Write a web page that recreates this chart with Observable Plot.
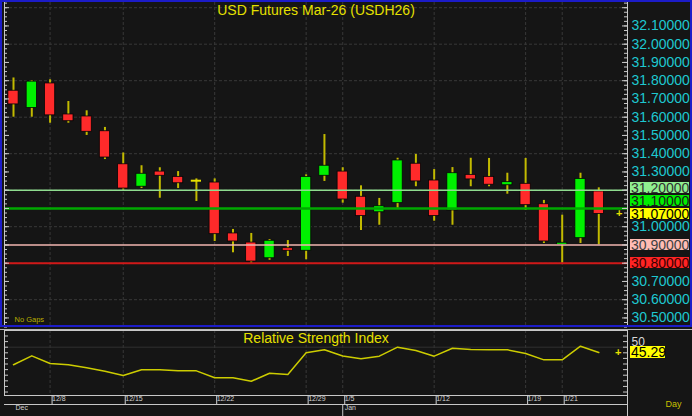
<!DOCTYPE html>
<html>
<head>
<meta charset="utf-8">
<script src="https://cdn.jsdelivr.net/npm/d3@7"></script>
<script src="https://cdn.jsdelivr.net/npm/@observablehq/plot@0.6"></script>
<style>
  html, body { margin: 0; padding: 0; background: #151515; }
  #chart { position: relative; width: 692px; height: 416px; background: #151515; overflow: hidden;
           font-family: "Liberation Sans", Arial, sans-serif; }
  #chart svg { position: absolute; left: 0; overflow: visible; }
  .lbl { position: absolute; font-size: 14px; line-height: 12px; height: 11.5px; padding-left: 1px;
         box-sizing: border-box; white-space: nowrap; overflow: visible; }
  .deco { position: absolute; pointer-events: none; }
</style>
</head>
<body>
<div id="chart"></div>
<script>
// ---------------- data ----------------
const dates = ["12/4","12/5","12/8","12/9","12/10","12/11","12/15","12/16","12/17","12/18","12/19",
  "12/22","12/23","12/24","12/25","12/26","12/29","12/30","1/5","1/6","1/7","1/8","1/9",
  "1/12","1/13","1/14","1/15","1/16","1/19","1/20","1/21","1/22","1/23"];
const open  = [31.745,31.650,31.785,31.615,31.604,31.523,31.342,31.219,31.302,31.273,31.252,
  31.242,30.963,30.913,30.827,30.882,30.868,31.279,31.302,31.164,31.079,31.129,31.345,
  31.253,31.089,31.284,31.273,31.227,31.235,31.123,30.901,30.937,31.193];
const high  = [31.815,31.800,31.805,31.686,31.635,31.544,31.404,31.334,31.323,31.302,31.262,
  31.262,30.985,30.963,30.930,30.924,31.284,31.505,31.323,31.224,31.155,31.375,31.396,
  31.313,31.324,31.375,31.374,31.293,31.374,31.144,31.063,31.293,31.213];
const low   = [31.600,31.600,31.567,31.567,31.500,31.368,31.200,31.209,31.156,31.209,31.138,
  30.919,30.857,30.800,30.816,30.837,30.819,31.248,31.129,30.979,31.008,31.101,31.219,
  31.030,31.008,31.219,31.219,31.178,31.089,30.908,30.800,30.908,30.901];
const close = [31.670,31.795,31.610,31.578,31.520,31.379,31.209,31.290,31.279,31.238,31.252,
  30.959,30.919,30.809,30.923,30.868,31.273,31.334,31.149,31.058,31.112,31.363,31.248,
  31.058,31.293,31.259,31.230,31.244,31.118,30.919,30.912,31.262,31.070];
const rsi   = [34.3,42.3,35.4,34.3,31.6,28.6,24.7,29.8,29.8,28.9,28.9,
  22.7,22.7,19.6,26.8,25.6,45.0,47.7,42.2,39.6,42.0,50.0,47.1,
  42.0,49.1,48.0,47.7,47.7,44.4,38.7,38.7,50.9,45.29];
const tickDates   = ["12/8","12/15","12/22","12/29","1/5","1/12","1/19","1/21"];
const monthLabels = ["Dec","Jan"];
const monthStarts = ["12/4","1/5"];
const levels      = [31.20, 31.10, 30.90, 30.80];
const priceTicks  = d3.range(305, 322).map(v => v / 10);   // 30.5 .. 32.1
const gridPrices  = d3.range(153, 162).map(v => v / 5);    // 30.6 .. 32.2 step 0.2
const rsiTicks    = d3.range(10, 61, 5);
const titleText   = "USD Futures Mar-26 (USDH26)";
const rsiTitle    = "Relative Strength Index";

// ---------------- styles ----------------
const BG = "#151515", GRID = "#383838", AXIS = "#c8c8c8";
const UP = "#00f000", DOWN = "#ff2a2a", WICK = "#c2ba00", YEL = "#e6e000", CYAN = "#1ec8d0";
const levelStyle = [
  {line: "#8fdc8f", width: 1.5, bg: "#90ee90", fg: "#303030"},
  {line: "#00a800", width: 2.5, bg: "#00ee00", fg: "#1a1a1a"},
  {line: "#f2b6b0", width: 1.5, bg: "#ffbcb4", fg: "#404040"},
  {line: "#d01818", width: 2,   bg: "#ff2424", fg: "#3a0000"}
];

const n = dates.length;
const idx = d3.range(n);
const candles = idx.map(i => ({i, date: dates[i], open: open[i], high: high[i], low: low[i], close: close[i]}));
const ups = candles.filter(d => d.close > d.open);
const downs = candles.filter(d => d.close < d.open);
const dojis = candles.filter(d => d.close === d.open);
const tickIdx = tickDates.map(d => dates.indexOf(d));
const monthIdx = monthStarts.map(d => dates.indexOf(d));
const xDomain = [-0.492, n - 1 + 1.57];
const ML = 4, MR = 65, W = 692;
const frameW = W - ML - MR;
const hw = 0.28;
const last = n - 1;

const chart = document.getElementById("chart");
const font = '"Liberation Sans", Arial, sans-serif';

// ---------------- price panel ----------------
const priceDomain = [30.4586, 32.2285];
const minorP = d3.range(0, 72).map(k => 30.45 + k * 0.025).filter(v => v <= priceDomain[1]);
const majorP = minorP.filter((v, k) => k % 4 === 2);

const pricePlot = Plot.plot({
  width: W, height: 327,
  marginLeft: ML, marginRight: MR, marginTop: 2, marginBottom: 2,
  style: {background: "none", color: AXIS, fontFamily: font, fontSize: "14px", overflow: "visible"},
  x: {type: "linear", domain: xDomain, axis: null},
  y: {domain: priceDomain, axis: null},
  marks: [
    Plot.ruleX(tickIdx, {x: d => d, stroke: GRID, strokeDasharray: "3,2"}),
    Plot.ruleY(gridPrices, {y: d => d, stroke: GRID, strokeDasharray: "3,2"}),
    Plot.ruleX(candles, {x: "i", y1: "low", y2: "high", stroke: WICK, strokeWidth: 2}),
    Plot.rect(ups, {x1: d => d.i - hw, x2: d => d.i + hw, y1: "open", y2: "close", fill: UP, stroke: "#050505", strokeWidth: 0.8}),
    Plot.rect(downs, {x1: d => d.i - hw, x2: d => d.i + hw, y1: "open", y2: "close", fill: DOWN, stroke: "#050505", strokeWidth: 0.8}),
    Plot.ruleY(dojis, {y: "close", x1: d => d.i - hw, x2: d => d.i + hw, stroke: YEL, strokeWidth: 2}),
    ...levels.map((v, k) => Plot.ruleY([v], {y: d => d, stroke: levelStyle[k].line, strokeWidth: levelStyle[k].width})),
    Plot.ruleY(minorP, {y: d => d, insetRight: frameW - 3, stroke: AXIS}),
    Plot.ruleY(majorP, {y: d => d, insetRight: frameW - 5, stroke: AXIS}),
    Plot.ruleY(minorP, {y: d => d, insetLeft: frameW - 3, stroke: AXIS}),
    Plot.ruleY(majorP, {y: d => d, insetLeft: frameW - 5, stroke: AXIS}),
    Plot.ruleX([xDomain[0], xDomain[1]], {x: d => d, stroke: AXIS}),
    Plot.axisY({
      anchor: "right", label: null, tickSize: 0, tickPadding: 4, fontSize: 14, color: CYAN,
      ticks: priceTicks.filter(v => !levels.some(l => Math.abs(l - v) < 1e-6)),
      tickFormat: d => d.toFixed(5)
    }),
    Plot.text([titleText], {frameAnchor: "top", dy: 3, fill: YEL, fontSize: 14}),
    Plot.text(["No Gaps"], {frameAnchor: "bottom-left", dx: 10, dy: -4, fill: "#b8b000", fontSize: 7.5, textAnchor: "start"}),
    Plot.text([close[last]], {y: d => d, frameAnchor: "right", dx: -5, text: () => "+", fill: YEL, fontSize: 11, fontWeight: "bold"})
  ]
});
pricePlot.style.top = "0px";
chart.appendChild(pricePlot);

// price labels on the right, placed through the y scale with simple stacking
const yS = pricePlot.scale("y");
const H = 11.5, GAP = 1.5;
let lbls = levels.map((v, k) => ({v, text: v.toFixed(5), bg: levelStyle[k].bg, fg: levelStyle[k].fg, fixed: false}));
lbls.push({v: close[last], text: close[last].toFixed(5), bg: "#ffff00", fg: "#000", fixed: true});
lbls.forEach(l => l.y = yS.apply(l.v));
lbls.sort((a, b) => b.y - a.y); // bottom first
for (let k = 1; k < lbls.length; k++) {
  const below = lbls[k - 1], cur = lbls[k];
  const maxY = below.y - H - GAP;
  if (!cur.fixed && cur.y > maxY) cur.y = maxY;
}
lbls.forEach(l => {
  const d = document.createElement("div");
  d.className = "lbl";
  d.textContent = l.text;
  Object.assign(d.style, {left: "630px", width: "59px", top: (l.y - H / 2) + "px", background: l.bg, color: l.fg});
  chart.appendChild(d);
});

// ---------------- RSI panel ----------------
const rsiDomain = [6.9, 64.9];
const rsiPlot = Plot.plot({
  width: W, height: 86,
  marginLeft: ML, marginRight: MR, marginTop: 0, marginBottom: 21,
  style: {background: "none", color: AXIS, fontFamily: font, fontSize: "14px", overflow: "visible"},
  x: {type: "linear", domain: xDomain, axis: null},
  y: {domain: rsiDomain, axis: null},
  marks: [
    Plot.ruleX(tickIdx, {x: d => d, stroke: GRID, strokeDasharray: "3,2"}),
    Plot.ruleY([50], {y: d => d, stroke: "#303030"}),
    Plot.line(rsi, {x: (d, i) => i, y: d => d, stroke: "#cccc00", strokeWidth: 1.5}),
    Plot.text([rsiTitle], {frameAnchor: "top", dy: 3, fill: YEL, fontSize: 14}),
    Plot.ruleY(rsiTicks, {y: d => d, insetRight: frameW - 4, stroke: AXIS}),
    Plot.ruleY(rsiTicks, {y: d => d, insetLeft: frameW - 4, stroke: AXIS}),
    Plot.frame({stroke: AXIS}),
    Plot.axisX({
      anchor: "bottom", label: null, ticks: tickIdx, tickFormat: i => dates[i],
      tickSize: 9, tickPadding: -8, textAnchor: "start", dx: 2, fontSize: 7, color: "#d0d0d0"
    }),
    Plot.ruleY([rsiDomain[0]], {y: d => d, dy: 9, stroke: AXIS}),
    Plot.ruleX([monthIdx[1]], {x: d => d, insetTop: 74, insetBottom: -21, stroke: AXIS}),
    Plot.ruleX([xDomain[1]], {x: d => d, insetBottom: -21, stroke: AXIS}),
    Plot.text(monthLabels, {x: (d, i) => monthIdx[i], frameAnchor: "bottom", dy: 14, dx: 2, textAnchor: "start", fontSize: 7, fill: "#d0d0d0"}),
    Plot.text([50], {y: d => d, frameAnchor: "right", dx: 4, textAnchor: "start", lineAnchor: "bottom", dy: -1, fill: "#d8d8d8", fontSize: 12}),
    Plot.text([rsi[last]], {y: d => d, frameAnchor: "right", dx: -6, text: () => "+", fill: YEL, fontSize: 11, fontWeight: "bold"}),
    Plot.text(["Day"], {frameAnchor: "bottom-right", dx: 38, dy: 11, textAnchor: "start", fill: "#c8c000", fontSize: 9})
  ]
});
rsiPlot.style.top = "330px";
chart.appendChild(rsiPlot);

const rS = rsiPlot.scale("y");
const rd = document.createElement("div");
rd.className = "lbl";
rd.textContent = rsi[last].toFixed(2);
Object.assign(rd.style, {left: "630px", width: "35px", top: (330 + rS.apply(rsi[last]) - H / 2) + "px", background: "#ffff00", color: "#000"});
chart.appendChild(rd);

// ---------------- decorations (panel borders) ----------------
const border = document.createElement("div");
border.className = "deco";
Object.assign(border.style, {left: "0px", top: "0px", width: "692px", height: "327px", border: "2px solid #1c1cc8", boxSizing: "border-box"});
chart.appendChild(border);
const sep = document.createElement("div");
sep.className = "deco";
Object.assign(sep.style, {left: "0px", top: "329px", width: "692px", height: "1px", background: "#b8b8b8"});
chart.appendChild(sep);
</script>
</body>
</html>
